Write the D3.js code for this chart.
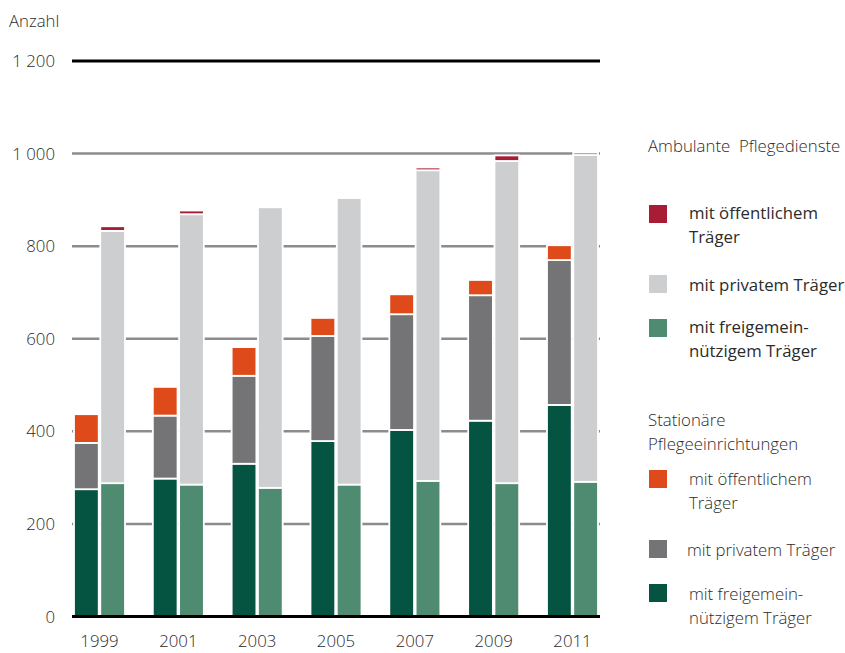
<!DOCTYPE html>
<html>
<head>
<meta charset="utf-8">
<script src="https://cdn.jsdelivr.net/npm/d3@7"></script>
<style>
  html, body { margin: 0; padding: 0; background: #fff; }
  svg { display: block; font-family: "Open Sans", "Noto Sans", sans-serif; }
</style>
</head>
<body>
<svg id="chart" width="845" height="653"></svg>
<script>
// Years on the x axis
const years = ["1999", "2001", "2003", "2005", "2007", "2009", "2011"];

// Stationäre Pflegeeinrichtungen (stacked bottom → top)
const statFrei   = [275, 298, 330, 379, 403, 423, 457];
const statPrivat = [100, 136, 190, 227, 250, 271, 313];
const statOeff   = [ 62,  62,  62,  39,  43,  33,  32];

// Ambulante Pflegedienste (stacked bottom → top)
const ambFrei    = [288, 285, 278, 285, 293, 288, 291];
const ambPrivat  = [545, 584, 606, 619, 671, 696, 706];
const ambOeff    = [ 10,   8,   0,   0,   6,  12,   5];

const yTicks = [0, 200, 400, 600, 800, 1000, 1200];
const yTickLabels = ["0", "200", "400", "600", "800", "1 000", "1 200"];

const FS = 16.8;
const TXT = "#2b2b2b";
const svg = d3.select("#chart");

const x = d3.scaleBand().domain(years).range([74, 598]).paddingInner(0.353).paddingOuter(0);
const sub = d3.scaleBand().domain(["stat", "amb"]).range([0, x.bandwidth()]).paddingInner(0.06);
const y = d3.scaleLinear().domain([0, 1200]).range([616.5, 61]);

// Grid lines
svg.append("g").selectAll("line")
  .data(yTicks.filter(v => v > 0 && v < 1200))
  .join("line")
  .attr("x1", 72).attr("x2", 600)
  .attr("y1", d => y(d)).attr("y2", d => y(d))
  .attr("stroke", "#8c8c8c").attr("stroke-width", 2.5);

// Top line at 1 200
svg.append("line")
  .attr("x1", 72).attr("x2", 600)
  .attr("y1", y(1200)).attr("y2", y(1200))
  .attr("stroke", "#000").attr("stroke-width", 3);

// Series definitions
const series = [
  { key: "stat", parts: [
    { vals: statFrei,   color: "#055442" },
    { vals: statPrivat, color: "#747476" },
    { vals: statOeff,   color: "#de4a19" } ] },
  { key: "amb", parts: [
    { vals: ambFrei,    color: "#4f8b71" },
    { vals: ambPrivat,  color: "#cdced0" },
    { vals: ambOeff,    color: "#a81c36" } ] }
];

const barsG = svg.append("g");
series.forEach(s => {
  years.forEach((yr, i) => {
    let base = 0;
    s.parts.forEach(p => {
      const v = p.vals[i];
      if (v > 0) {
        barsG.append("rect")
          .attr("x", x(yr) + sub(s.key))
          .attr("width", sub.bandwidth())
          .attr("y", y(base + v))
          .attr("height", y(base) - y(base + v))
          .attr("fill", p.color)
          .attr("stroke", "#fff")
          .attr("stroke-width", 1.8);
      }
      base += v;
    });
  });
});

// Baseline
svg.append("line")
  .attr("x1", 72).attr("x2", 600)
  .attr("y1", y(0)).attr("y2", y(0))
  .attr("stroke", "#000").attr("stroke-width", 3);

// Y tick labels
svg.append("g").selectAll("text")
  .data(yTicks)
  .join("text")
  .attr("x", 55)
  .attr("y", d => y(d) + 6)
  .attr("text-anchor", "end")
  .attr("font-size", FS)
  .attr("font-weight", 300)
  .attr("fill", TXT)
  .text((d, i) => yTickLabels[i]);

// Axis title
svg.append("text")
  .attr("x", 9).attr("y", 27)
  .attr("font-size", FS).attr("font-weight", 300).attr("fill", TXT)
  .text("Anzahl");

// X labels
svg.append("g").selectAll("text")
  .data(years)
  .join("text")
  .attr("x", d => x(d) + x.bandwidth() / 2)
  .attr("y", 647)
  .attr("text-anchor", "middle")
  .attr("font-size", FS).attr("font-weight", 300).attr("fill", TXT)
  .text(d => d);

// Legend
const legend = svg.append("g");
function legendTitle(lines, yy) {
  lines.forEach((t, k) => legend.append("text")
    .attr("x", 648).attr("y", yy + k * 24)
    .attr("font-size", FS).attr("font-weight", 300).attr("fill", TXT)
    .attr("xml:space", "preserve")
    .text(t));
}
function legendItem(color, lines, sy, ty, tx, weight) {
  legend.append("rect").attr("x", 649).attr("y", sy).attr("width", 18).attr("height", 18).attr("fill", color);
  lines.forEach((t, k) => legend.append("text")
    .attr("x", tx).attr("y", ty + k * 24)
    .attr("font-size", FS).attr("font-weight", weight).attr("fill", TXT)
    .text(t));
}
legendTitle(["Ambulante  Pflegedienste"], 152);
legendItem("#a81c36", ["mit öffentlichem", "Träger"], 205, 219, 689, 400);
legendItem("#cdced0", ["mit privatem Träger"], 275, 291, 689, 400);
legendItem("#4f8b71", ["mit freigemein-", "nützigem Träger"], 319, 333, 689, 400);

legendTitle(["Stationäre", "Pflegeeinrichtungen"], 426);
legendItem("#de4a19", ["mit öffentlichem", "Träger"], 470, 485, 689, 300);
legendItem("#747476", ["mit privatem Träger"], 540, 556, 687, 300);
legendItem("#055442", ["mit freigemein-", "nützigem Träger"], 584, 600, 689, 300);
</script>
</body>
</html>
